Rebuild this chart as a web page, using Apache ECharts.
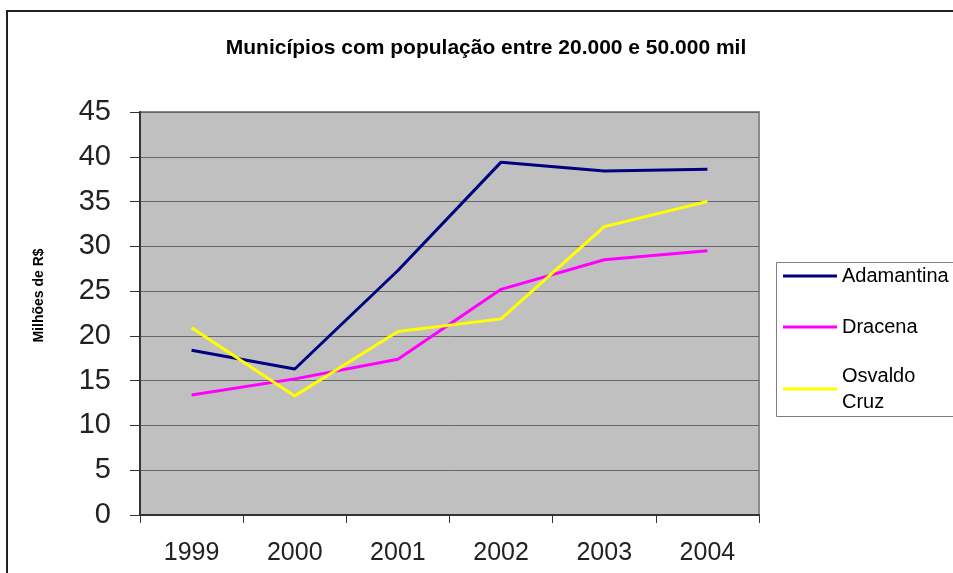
<!DOCTYPE html>
<html>
<head>
<meta charset="utf-8">
<script src="https://cdn.jsdelivr.net/npm/echarts@6/dist/echarts.min.js"></script>
<style>
  html, body { margin: 0; padding: 0; background: #fff; overflow: hidden; }
  #chart { width: 953px; height: 573px; }
</style>
</head>
<body>
<div id="chart"></div>
<script>
  // dados
  var anos = ['1999', '2000', '2001', '2002', '2003', '2004'];
  var adamantina = [18.4, 16.3, 27.3, 39.4, 38.4, 38.6];
  var dracena = [13.4, 15.2, 17.4, 25.2, 28.5, 29.5];
  var osvaldoCruz = [20.9, 13.3, 20.5, 21.9, 32.2, 35.0];
  var nomes = ['Adamantina', 'Dracena', 'Osvaldo Cruz'];
  var cores = ['#000080', '#FF00FF', '#FFFF00'];

  var fonte = "'Liberation Sans', Arial, sans-serif";
  var chart = echarts.init(document.getElementById('chart'));

  var option = {
    backgroundColor: '#fff',
    animation: false,
    title: {
      text: 'Municípios com população entre 20.000 e 50.000 mil',
      left: 486,
      top: 38,
      padding: 0,
      textAlign: 'center',
      textStyle: { fontFamily: fonte, fontSize: 21, fontWeight: 'bold', color: '#000' }
    },
    graphic: [{
      // moldura externa (so as bordas visiveis)
      type: 'polyline',
      z: -10,
      shape: { points: [[7, 600], [7, 11], [1000, 11]] },
      style: { fill: 'none', stroke: '#222', lineWidth: 2 }
    }, {
      // caixa da legenda, cortada na borda direita
      type: 'polyline',
      z: 0,
      shape: { points: [[1000, 262.5], [776.5, 262.5], [776.5, 416.5], [1000, 416.5]] },
      style: { fill: 'none', stroke: '#808080', lineWidth: 1 }
    }],
    legend: {
      orient: 'vertical',
      left: 776,
      top: 262,
      padding: [2, 0, 6, 7],
      itemGap: 27,
      itemWidth: 54,
      itemHeight: 3,
      itemTextGap: 5,
      icon: 'rect',
      data: [
        { name: nomes[0] },
        { name: nomes[1] },
        { name: nomes[2], textStyle: { padding: [0, 0, -26, 0], lineHeight: 26 } }
      ],
      formatter: function (name) {
        return name === 'Osvaldo Cruz' ? 'Osvaldo\nCruz' : name;
      },
      textStyle: { fontFamily: fonte, fontSize: 20, lineHeight: 24, color: '#000' }
    },
    grid: {
      left: 140,
      right: 194,
      top: 112,
      bottom: 58,
      show: true,
      backgroundColor: '#C0C0C0',
      borderColor: '#8a8a8a',
      borderWidth: 2
    },
    xAxis: {
      type: 'category',
      data: anos,
      boundaryGap: true,
      axisLine: { lineStyle: { color: '#333', width: 2 } },
      axisTick: { show: true, length: 8, lineStyle: { color: '#333' } },
      axisLabel: { margin: 26, fontFamily: fonte, fontSize: 25, color: '#222' },
      splitLine: { show: false }
    },
    yAxis: {
      type: 'value',
      min: 0,
      max: 45,
      interval: 5,
      name: 'Milhões de R$',
      nameLocation: 'middle',
      nameRotate: 90,
      nameGap: 94,
      nameTextStyle: { fontFamily: fonte, fontSize: 14, fontWeight: 'bold', color: '#000', padding: [0, 0, 0, 36] },
      axisLine: { show: true, lineStyle: { color: '#333', width: 2 } },
      axisTick: { show: true, length: 10, lineStyle: { color: '#333' } },
      axisLabel: { margin: 29, fontFamily: fonte, fontSize: 29, color: '#222' },
      splitLine: { show: true, lineStyle: { color: '#666', width: 1 } }
    },
    series: [
      { name: nomes[0], type: 'line', data: adamantina, symbol: 'none', lineStyle: { color: cores[0], width: 3 }, itemStyle: { color: cores[0] } },
      { name: nomes[1], type: 'line', data: dracena, symbol: 'none', lineStyle: { color: cores[1], width: 3 }, itemStyle: { color: cores[1] } },
      { name: nomes[2], type: 'line', data: osvaldoCruz, symbol: 'none', lineStyle: { color: cores[2], width: 3 }, itemStyle: { color: cores[2] } }
    ]
  };

  chart.setOption(option);
</script>
</body>
</html>
